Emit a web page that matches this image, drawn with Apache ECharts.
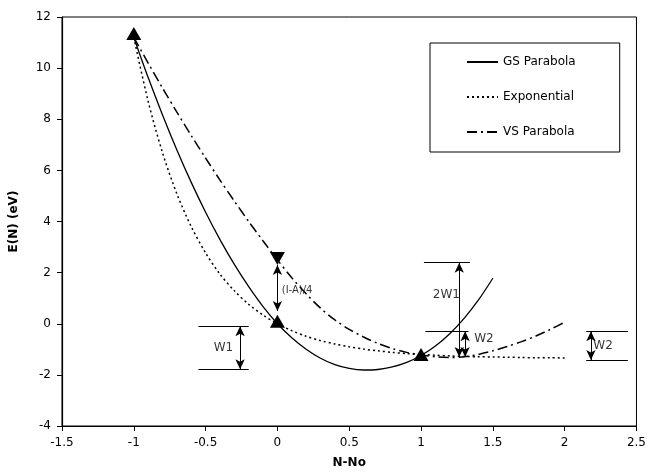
<!DOCTYPE html>
<html>
<head>
<meta charset="utf-8">
<script src="https://cdn.jsdelivr.net/npm/echarts@6/dist/echarts.min.js"></script>
<style>html,body{margin:0;padding:0;background:#fff}#c{width:649px;height:475px}</style>
</head>
<body>
<div id="c"></div>
<script>
// ---- data ----
const gsX = [-1.0,-0.9,-0.8,-0.7,-0.6,-0.5,-0.4,-0.3,-0.2,-0.1,0.0,0.1,0.2,0.3,0.4,0.5,0.6,0.7,0.8,0.9,1.0,1.1,1.2,1.3,1.4,1.5];
const gsY = [11.2,9.63,8.17,6.80,5.53,4.36,3.29,2.32,1.45,0.67,0.0,-0.55,-1.00,-1.35,-1.60,-1.75,-1.81,-1.79,-1.69,-1.51,-1.24,-0.87,-0.39,0.21,0.93,1.78];
const expX = [-1.0,-0.9,-0.8,-0.7,-0.6,-0.5,-0.4,-0.3,-0.2,-0.1,0.0,0.1,0.2,0.3,0.4,0.5,0.6,0.7,0.8,0.9,1.0,1.1,1.2,1.3,1.4,1.5,1.6,1.7,1.8,1.9,2.0];
const expY = [11.2,8.70,6.69,5.08,3.80,2.77,1.94,1.29,0.76,0.34,0.0,-0.27,-0.49,-0.66,-0.79,-0.90,-0.99,-1.06,-1.12,-1.17,-1.20,-1.23,-1.26,-1.28,-1.29,-1.30,-1.31,-1.32,-1.33,-1.33,-1.34];
const vsX = [-1.0,-0.9,-0.8,-0.7,-0.6,-0.5,-0.4,-0.3,-0.2,-0.1,0.0,0.1,0.2,0.3,0.4,0.5,0.6,0.7,0.8,0.9,1.0,1.1,1.2,1.3,1.4,1.5,1.6,1.7,1.8,1.9,2.0];
const vsY = [11.2,10.2,9.22,8.28,7.36,6.48,5.62,4.80,4.00,3.24,2.50,1.80,1.17,0.61,0.15,-0.22,-0.52,-0.77,-0.97,-1.12,-1.22,-1.29,-1.32,-1.29,-1.20,-1.06,-0.89,-0.70,-0.48,-0.22,0.06];
const upTriX = [-1.0, 0.0, 1.0];
const upTriY = [11.35, 0.1, -1.2];
const downTriX = [0.0];
const downTriY = [2.55];
// annotation segments [x1,y1,x2,y2]
const plainSegs = [
  [-0.55,-0.1,-0.2,-0.1], [-0.55,-1.78,-0.2,-1.78],
  [1.02,2.39,1.34,2.39], [1.03,-0.29,1.33,-0.29],
  [2.15,-0.29,2.44,-0.29], [2.15,-1.42,2.44,-1.42]
];
const arrowSegs = [
  [-0.26,-0.1,-0.26,-1.78],
  [0.0,2.3,0.0,0.5],
  [1.266,2.39,1.266,-1.3],
  [1.307,-0.29,1.307,-1.3],
  [2.183,-0.29,2.183,-1.42]
];
const noteText = ['W1','(I-A)/4','2W1','W2','W2'];
const noteX = [-0.376, 0.03, 1.176, 1.37, 2.20];
const noteY = [-0.95, 1.3, 1.12, -0.6, -0.85];
const noteAlign = ['center','left','center','left','left'];
const noteSize = [12, 10, 12, 12, 12];
const xTicks = {min:-1.5, max:2.5, interval:0.5};
const yTicks = {min:-4, max:12, interval:2};

const zip = (xs, ys) => xs.map((x, i) => [x, ys[i]]);
const FONT = 'DejaVu Sans';
const BLK = '#000';

const segData = s => s.map(a => [{coord:[a[0],a[1]]},{coord:[a[2],a[3]]}]);

const chart = echarts.init(document.getElementById('c'), null, {renderer:'canvas'});
chart.setOption({
  animation: false,
  textStyle: {fontFamily: FONT, color: BLK},
  grid: {left: 59, right: 10, top: 17, bottom: 49, show: true, borderColor: BLK, borderWidth: 1, backgroundColor: 'transparent'},
  legend: {
    data: ['GS Parabola','Exponential','VS Parabola'],
    orient: 'vertical', left: 430, top: 43,
    itemWidth: 31, itemHeight: 6, itemGap: 23,
    padding: [13, 44, 14, 36],
    borderColor: BLK, borderWidth: 1,
    itemStyle: {color: 'rgba(0,0,0,0)', borderColor: 'rgba(0,0,0,0)', borderWidth: 0},
    textStyle: {fontFamily: FONT, fontSize: 12, color: BLK},
    selectedMode: false
  },
  xAxis: {
    type: 'value', min: xTicks.min, max: xTicks.max, interval: xTicks.interval,
    name: 'N-No', nameLocation: 'middle', nameGap: 31,
    nameTextStyle: {fontFamily: FONT, fontSize: 12, fontWeight: 'bold', color: BLK},
    axisLine: {onZero: false, lineStyle: {color: BLK, width: 1.2}},
    axisTick: {show: true, length: 5, lineStyle: {color: BLK}},
    axisLabel: {fontFamily: FONT, fontSize: 12, color: BLK, margin: 11},
    splitLine: {show: false}
  },
  yAxis: {
    type: 'value', min: yTicks.min, max: yTicks.max, interval: yTicks.interval,
    name: 'E(N) (eV)', nameLocation: 'middle', nameGap: 42,
    nameTextStyle: {fontFamily: FONT, fontSize: 12, fontWeight: 'bold', color: BLK},
    axisLine: {onZero: false, lineStyle: {color: BLK, width: 1.2}},
    axisTick: {show: true, length: 5, lineStyle: {color: BLK}},
    axisLabel: {fontFamily: FONT, fontSize: 12, color: BLK, margin: 11},
    splitLine: {show: false}
  },
  series: [
    {name: 'GS Parabola', type: 'line', data: zip(gsX, gsY), smooth: 0.3, symbol: 'none',
     lineStyle: {color: BLK, width: 1.3, type: 'solid'}, itemStyle: {color: BLK}},
    {name: 'Exponential', type: 'line', data: zip(expX, expY), smooth: 0.3, symbol: 'none',
     lineStyle: {color: BLK, width: 1.5, type: [2, 3]}, itemStyle: {color: BLK}},
    {name: 'VS Parabola', type: 'line', data: zip(vsX, vsY), smooth: 0.3, symbol: 'none',
     lineStyle: {color: BLK, width: 1.5, type: [10, 4, 2, 4]}, itemStyle: {color: BLK}},
    {type: 'scatter', data: zip(upTriX, upTriY), symbol: 'triangle', symbolSize: [15, 13],
     itemStyle: {color: BLK, opacity: 1}, z: 5},
    {type: 'scatter', data: zip(downTriX, downTriY), symbol: 'triangle', symbolRotate: 180, symbolSize: [15, 13],
     itemStyle: {color: BLK, opacity: 1}, z: 5},
    {type: 'line', data: [], markLine: {
      silent: true, symbol: ['none','none'], animation: false,
      lineStyle: {color: BLK, type: 'solid', width: 1}, label: {show: false},
      emphasis: {disabled: true},
      data: segData(plainSegs)}},
    {type: 'line', data: [], markLine: {
      silent: true, symbol: ['arrow','arrow'], symbolSize: [7, 10], animation: false,
      lineStyle: {color: BLK, type: 'solid', width: 1}, label: {show: false},
      emphasis: {disabled: true},
      data: segData(arrowSegs)}},
    {type: 'scatter', symbolSize: 1, itemStyle: {color: 'rgba(0,0,0,0)'}, silent: true,
     data: noteText.map((t, i) => ({name: t, value: [noteX[i], noteY[i]],
       label: {show: true, position: 'inside', formatter: t, align: noteAlign[i], verticalAlign: 'middle',
               fontFamily: FONT, fontSize: noteSize[i], color: BLK}}))}
  ]
});
</script>
</body>
</html>
